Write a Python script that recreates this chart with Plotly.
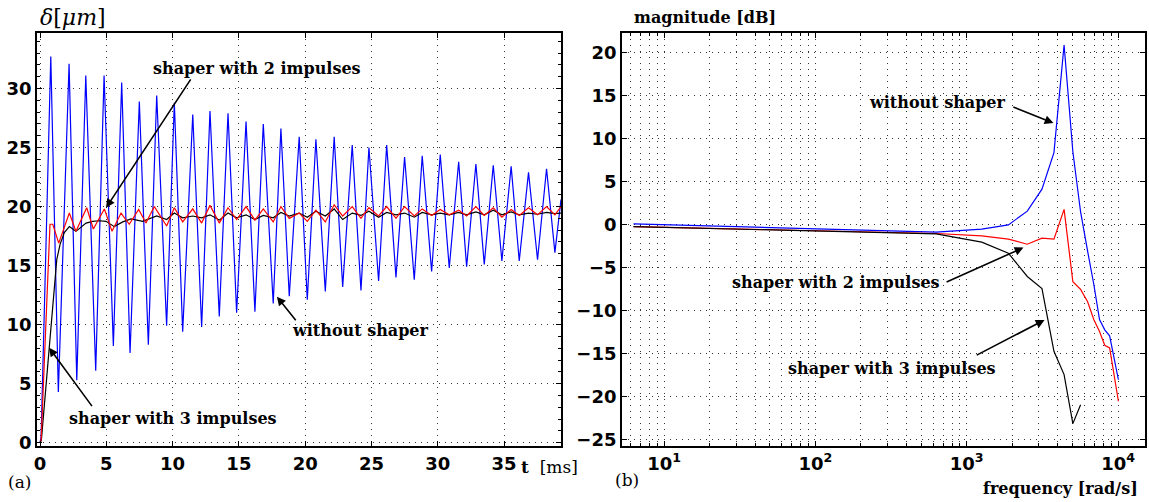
import plotly.graph_objects as go

# ---------------- (a) time response ----------------
blue_t = [0, 0.08, 0.81, 1.38, 2.19, 2.77, 3.45, 4.20, 4.83, 5.53, 6.16, 6.79,
          7.49, 8.17, 8.80, 9.55, 10.13, 10.76, 11.52, 12.19, 12.82, 13.52,
          14.18, 14.83, 15.54, 16.21, 16.84, 17.59, 18.17, 18.80, 19.55, 20.16,
          20.81, 21.52, 22.19, 22.83, 23.55, 24.21, 24.81, 25.54, 26.15, 26.85,
          27.50, 28.23, 28.83, 29.54, 30.19, 30.87, 31.58, 32.18, 32.88, 33.51,
          34.19, 34.84, 35.54, 36.15, 36.85, 37.53, 38.21, 38.84, 39.3]
blue_v = [0, 0.5, 32.7, 4.3, 32.1, 5.3, 31.1, 6.1, 31.1, 8.2, 30.5, 7.6,
          28.9, 8.3, 29.4, 9.9, 28.8, 9.4, 27.8, 9.8, 28.1, 10.7,
          27.9, 11.0, 27.2, 11.1, 27.0, 11.8, 26.6, 12.4, 25.9, 12.1,
          25.7, 12.8, 25.9, 13.2, 25.2, 12.9, 25.0, 13.7, 25.2, 14.0,
          24.2, 13.8, 24.3, 14.5, 24.4, 14.8, 23.8, 14.9, 23.6, 15.1,
          23.5, 15.4, 23.4, 15.4, 22.9, 15.5, 23.2, 16.1, 20.6]

red_t = [0, 0.08, 0.75, 0.96, 1.41, 2.21, 2.71, 3.52, 4.02, 4.85, 5.43, 6.11,
         6.73, 7.44, 7.99, 8.62, 9.55, 10.13, 10.76, 11.52, 12.19, 12.82, 13.52,
         14.18, 14.83, 15.54, 16.21, 16.84, 17.59, 18.17, 18.80, 19.55, 20.16,
         20.81, 21.52, 22.19, 22.83, 23.55, 24.21, 24.81, 25.54, 26.15, 26.85,
         27.50, 28.23, 28.83, 29.54, 30.19, 30.87, 31.58, 32.18, 32.88, 33.51,
         34.19, 34.84, 35.54, 36.15, 36.85, 37.53, 38.21, 38.84, 39.3]
red_v = [0, 0.2, 18.5, 18.5, 16.9, 19.45, 17.9, 19.9, 18.1, 19.8, 17.9, 19.45,
         18.5, 19.75, 18.6, 20.0, 18.35, 19.9, 18.7, 19.8, 18.6, 20.1, 18.6,
         19.9, 18.9, 20.0, 18.85, 19.8, 18.7, 20.0, 19.0, 19.45, 18.75,
         19.7, 18.7, 20.15, 19.2, 20.0, 19.0, 19.9, 19.2, 20.0, 19.0,
         20.0, 19.2, 19.8, 19.25, 19.75, 19.3, 19.7, 19.2, 20.0, 19.25,
         19.9, 19.1, 19.75, 19.25, 19.9, 19.3, 20.0, 19.3, 20.0]

black_t = [0, 0.1, 1.26, 1.51, 1.83, 2.21, 2.71, 3.47, 3.97, 4.47, 4.98, 5.6,
           6.24, 6.86, 7.74, 8.37, 8.80, 9.55, 10.13, 10.76, 11.52, 12.19,
           12.82, 13.52, 14.18, 14.83, 15.54, 16.21, 16.84, 17.59, 18.17,
           18.80, 19.55, 20.16, 20.81, 21.52, 22.19, 22.83, 23.55, 24.21,
           24.81, 25.54, 26.15, 26.85, 27.50, 28.23, 28.83, 29.54, 30.19,
           30.87, 31.58, 32.18, 32.88, 33.51, 34.19, 34.84, 35.54, 36.15,
           36.85, 37.53, 38.21, 38.84, 39.3]
black_v = [0, 0.2, 15.5, 16.8, 17.8, 18.3, 17.9, 18.6, 18.75, 18.8, 18.75, 18.3,
           18.7, 18.95, 18.75, 19.05, 19.2, 18.9, 19.45, 19.05, 19.2, 19.05,
           19.3, 18.85, 19.45, 19.05, 19.3, 18.9, 19.25, 19.05, 19.5,
           19.2, 19.45, 19.1, 19.6, 19.2, 19.8, 18.9, 19.45, 19.25,
           19.6, 19.1, 19.5, 19.3, 19.45, 19.1, 19.5, 19.3, 19.45,
           19.3, 19.5, 19.3, 19.55, 19.3, 19.7, 19.3, 19.55, 19.3,
           19.45, 19.35, 19.5, 19.4, 19.45]

t_ticks = [0, 5, 10, 15, 20, 25, 30, 35]
d_ticks = [0, 5, 10, 15, 20, 25, 30]

# ---------------- (b) frequency response ----------------
freq = [6.28, 628, 1257, 1885, 2513, 3142, 3770, 4398, 5027, 5655, 6283,
        6912, 7540, 8168, 8796, 9425, 10053]
mag_none = [0.12, -0.85, -0.5, 0.0, 1.6, 4.15, 8.4, 20.9, 8.5, 1.5, -3.0,
            -6.9, -11.0, -12.2, -12.9, -15.5, -18.0]
mag_2imp = [-0.2, -1.0, -1.28, -1.66, -2.25, -1.55, -1.66, 1.8, -6.6, -7.5,
            -8.9, -11.0, -12.4, -14.0, -14.3, -17.4, -20.5]
freq_3 = [6.28, 628, 1257, 1885, 2513, 3142, 3770, 4398, 5027, 5655]
mag_3imp = [-0.2, -1.05, -2.0, -3.3, -6.0, -7.4, -14.7, -17.4, -23.1, -20.9]

f_ticks = [10, 100, 1000, 10000]
f_ticktext = ["10<sup>1</sup>", "10<sup>2</sup>", "10<sup>3</sup>", "10<sup>4</sup>"]
db_ticks = [-25, -20, -15, -10, -5, 0, 5, 10, 15, 20]

W, H = 1149, 502


def px(x):
    return x / W


def py(y):
    return 1 - y / H


fig = go.Figure()
lw = 1.2
fig.add_trace(go.Scatter(x=blue_t, y=blue_v, mode="lines", line=dict(color="#0000ff", width=lw), xaxis="x", yaxis="y"))
fig.add_trace(go.Scatter(x=black_t, y=black_v, mode="lines", line=dict(color="#000000", width=lw), xaxis="x", yaxis="y"))
fig.add_trace(go.Scatter(x=red_t, y=red_v, mode="lines", line=dict(color="#ff0000", width=lw), xaxis="x", yaxis="y"))

fig.add_trace(go.Scatter(x=freq, y=mag_none, mode="lines", line=dict(color="#0000ff", width=lw), xaxis="x2", yaxis="y2"))
fig.add_trace(go.Scatter(x=freq, y=mag_2imp, mode="lines", line=dict(color="#ff0000", width=lw), xaxis="x2", yaxis="y2"))
fig.add_trace(go.Scatter(x=freq_3, y=mag_3imp, mode="lines", line=dict(color="#000000", width=lw), xaxis="x2", yaxis="y2"))

tickfont = dict(family="DejaVu Sans", size=18, color="black", weight="bold")
gridc = "#333333"
gdash = "1px,5px"
common = dict(showline=True, linecolor="black", linewidth=1.8, mirror="ticks",
              ticks="inside", ticklen=5, tickcolor="black", showgrid=True,
              gridcolor=gridc, gridwidth=1, griddash=gdash, zeroline=False,
              tickfont=tickfont, automargin=False)

ydom = [py(446), py(33)]
minor_f = [m * 10 ** e for e in range(0, 4) for m in range(2, 10)]

fig.update_layout(
    width=W, height=H,
    margin=dict(l=0, r=0, t=0, b=0),
    paper_bgcolor="white", plot_bgcolor="white",
    showlegend=False,
    xaxis=dict(domain=[px(37), px(561)], range=[-0.23, 39.3], tickvals=t_ticks, anchor="y", **common),
    yaxis=dict(domain=ydom, range=[-0.28, 34.7], tickvals=d_ticks, anchor="x",
               minor=dict(dtick=1, ticks="inside", ticklen=3, tickcolor="black"), **common),
    xaxis2=dict(domain=[px(622), px(1145)], type="log", range=[0.722, 4.178],
                tickmode="array", tickvals=f_ticks, ticktext=f_ticktext, anchor="y2",
                minor=dict(tickmode="array", tickvals=minor_f, ticks="inside", ticklen=3,
                           tickcolor="black", showgrid=True, gridcolor=gridc,
                           gridwidth=1, griddash=gdash),
                **common),
    yaxis2=dict(domain=ydom, range=[-25.7, 22.3], tickvals=db_ticks, anchor="x2", **common),
)

serif_b = dict(family="DejaVu Serif", size=16, color="black", weight="bold")
serif = dict(family="DejaVu Serif", size=17, color="black")

texts = [
    ("shaper with 2 impulses", 257, 68, serif_b),
    ("without shaper", 360, 330, serif_b),
    ("shaper with 3 impulses", 173, 418, serif_b),
    ("without shaper", 937, 102, serif_b),
    ("shaper with 2 impulses", 836, 282, serif_b),
    ("shaper with 3 impulses", 892, 368, serif_b),
    ("magnitude [dB]", 705, 18, serif_b),
    ("frequency [rad/s]", 1060, 488, serif_b),
    ("<b>t</b>  [ms]", 549, 467, serif),
    ("(a)", 19, 482, serif),
    ("(b)", 627, 480, serif),
]
for txt, x, y, f in texts:
    fig.add_annotation(text=txt, x=px(x), y=py(y), xref="paper", yref="paper",
                       xanchor="center", yanchor="middle", showarrow=False, font=f)

fig.add_annotation(text="<i>δ</i>[<i>μm</i>]", x=px(38), y=py(18), xref="paper", yref="paper",
                   xanchor="left", yanchor="middle", showarrow=False,
                   font=dict(family="DejaVu Serif", size=22, color="black"))

arrows = [
    # (head_x, head_y, tail_x, tail_y, xref, yref)
    (4.98, 19.9, 11.44, 30.9, "x", "y"),
    (17.87, 12.37, 19.38, 10.25, "x", "y"),
    (0.68, 8.05, 4.0, 2.97, "x", "y"),
    (3.573, 11.83, 3.298, 13.76, "x2", "y2"),
    (3.375, -2.64, 2.857, -6.71, "x2", "y2"),
    (3.514, -11.05, 3.056, -15.23, "x2", "y2"),
]
for hx, hy, tx, ty, xr, yr in arrows:
    fig.add_annotation(text="", x=hx, y=hy, ax=tx, ay=ty, xref=xr, yref=yr,
                       axref=xr, ayref=yr, showarrow=True, arrowhead=2,
                       arrowsize=1.1, arrowwidth=1.6, arrowcolor="black")

fig.write_html("out.html", config={"displayModeBar": False},
               post_script="document.body.style.margin='0px';document.body.style.padding='0px';")
